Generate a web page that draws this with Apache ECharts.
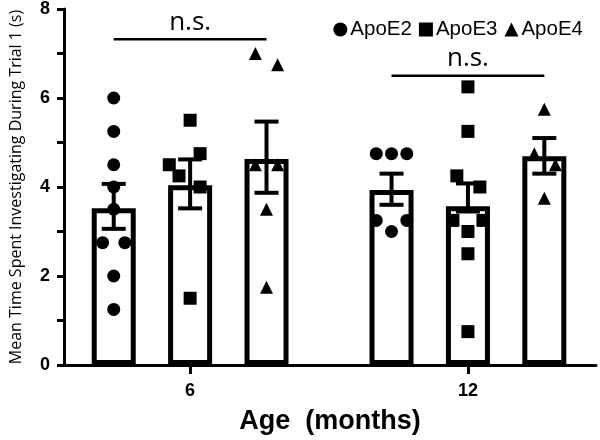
<!DOCTYPE html>
<html>
<head>
<meta charset="utf-8">
<script src="https://cdn.jsdelivr.net/npm/echarts@6/dist/echarts.min.js"></script>
<style>
  html, body { margin: 0; padding: 0; background: #fff; }
  #main { width: 600px; height: 440px; }
</style>
</head>
<body>
<div id="main"></div>
<script>
// ages on the x axis, genotypes as the three bars in each group
const ageLabels = ['6', '12'];
const genotypes = ['ApoE2', 'ApoE3', 'ApoE4'];
const yTicks = [0, 2, 4, 6, 8];

// bar heights (mean) and error bar ends, per genotype
const meansAt6 = [3.52, 4.04, 4.63];
const meansAt12 = [3.93, 3.57, 4.69];
const errLowAt6 = [3.06, 3.52, 3.87];
const errHighAt6 = [4.07, 4.62, 5.47];
const errLowAt12 = [3.60, 3.45, 4.30];
const errHighAt12 = [4.30, 4.08, 5.10];

// individual animals, with small horizontal jitter (x axis units)
const e2At6 = [6.0, 5.25, 4.5, 4.0, 3.5, 2.75, 2.75, 2.0, 1.25];
const e2At6Jit = [0, 0, 0, 0, 0, -0.04, 0.04, 0, 0];
const e3At6 = [5.5, 4.75, 4.5, 4.25, 4.0, 1.5];
const e3At6Jit = [0, 0.036, -0.075, -0.04, 0.036, 0];
const e4At6 = [7.0, 6.75, 4.5, 4.5, 3.5, 1.75];
const e4At6Jit = [-0.04, 0.04, -0.04, 0.04, 0, 0];
const e2At12 = [4.75, 4.75, 4.75, 3.25, 3.25, 3.0];
const e2At12Jit = [-0.055, 0, 0.055, -0.055, 0.055, 0];
const e3At12 = [6.25, 5.25, 4.25, 4.0, 3.25, 3.25, 3.0, 2.5, 0.75];
const e3At12Jit = [0, 0, -0.04, 0.043, -0.054, 0.054, 0, 0, 0];
const e4At12 = [5.75, 4.75, 4.5, 3.75];
const e4At12Jit = [0, -0.036, 0.04, 0];

// significance brackets: [first genotype, last genotype, height]
const sigAt6 = [0, 2, 7.32, 'n.s.'];
const sigAt12 = [0, 2, 6.5, 'n.s.'];

const barOffsets = [-0.275, 0, 0.275];
const agePos = (i) => i + 1;
const xOf = (ageIdx, gIdx) => agePos(ageIdx) + barOffsets[gIdx];

const means = [meansAt6, meansAt12];
const errLow = [errLowAt6, errLowAt12];
const errHigh = [errHighAt6, errHighAt12];
const points = [
  [[e2At6, e2At6Jit], [e3At6, e3At6Jit], [e4At6, e4At6Jit]],
  [[e2At12, e2At12Jit], [e3At12, e3At12Jit], [e4At12, e4At12Jit]]
];
const symbols = ['circle', 'rect', 'triangle'];

const barData = [];
const errData = [];
ageLabels.forEach((a, ai) => {
  genotypes.forEach((g, gi) => {
    barData.push([xOf(ai, gi), means[ai][gi]]);
    errData.push([xOf(ai, gi), errLow[ai][gi], errHigh[ai][gi]]);
  });
});

const pointSeries = genotypes.map((g, gi) => {
  const data = [];
  ageLabels.forEach((a, ai) => {
    const [vals, jit] = points[ai][gi];
    vals.forEach((v, k) => data.push([xOf(ai, gi) + jit[k], v]));
  });
  return {
    name: g,
    type: 'scatter',
    symbol: symbols[gi],
    symbolSize: 13,
    itemStyle: { color: '#000', opacity: 1 },
    z: 5,
    data: data
  };
});

const sigData = [sigAt6, sigAt12].map((s, ai) =>
  [xOf(ai, s[0]), xOf(ai, s[1]), s[2], s[3]]);

var chart = echarts.init(document.getElementById('main'));

var option = {
  animation: false,
  legend: {
    data: genotypes,
    right: 12,
    top: 14,
    itemWidth: 14,
    itemHeight: 14,
    itemGap: 7,
    itemStyle: { opacity: 1 },
    textStyle: { fontFamily: 'Liberation Sans', fontSize: 20.5, color: '#000', padding: [0, 0, 0, -2] }
  },
  grid: { left: 60, right: 4, top: 8, bottom: 74 },
  xAxis: {
    type: 'value',
    min: 0.546,
    max: 2.461,
    name: 'Age  (months)',
    nameLocation: 'middle',
    nameGap: 43,
    nameTextStyle: { fontFamily: 'Liberation Sans', fontWeight: 'bold', fontSize: 27, color: '#000' },
    axisLine: { lineStyle: { color: '#000', width: 3 } },
    axisTick: {
      show: true,
      customValues: ageLabels.map((a, i) => agePos(i)),
      length: 9,
      lineStyle: { color: '#000', width: 3 }
    },
    axisLabel: {
      customValues: ageLabels.map((a, i) => agePos(i)),
      formatter: (v) => ageLabels[Math.round(v) - 1],
      margin: 17,
      fontFamily: 'Liberation Sans',
      fontWeight: 'bold',
      fontSize: 18,
      color: '#000'
    },
    splitLine: { show: false }
  },
  yAxis: {
    type: 'value',
    min: 0,
    max: 8,
    interval: 1,
    name: 'Mean Time Spent Investigating During Trial 1 (s)',
    nameLocation: 'middle',
    nameGap: 40,
    nameTextStyle: { fontFamily: 'Open Sans', fontSize: 16, color: '#000' },
    axisLine: { show: true, lineStyle: { color: '#000', width: 3 } },
    axisTick: { show: true, length: 7, lineStyle: { color: '#000', width: 3 } },
    axisLabel: {
      formatter: (v) => (yTicks.indexOf(v) >= 0 ? String(v) : ''),
      margin: 14,
      fontFamily: 'Liberation Sans',
      fontWeight: 'bold',
      fontSize: 18,
      color: '#000'
    },
    splitLine: { show: false }
  },
  series: [
    {
      type: 'bar',
      barWidth: 44,
      itemStyle: { color: '#fff', borderColor: '#000', borderWidth: 5 },
      z: 2,
      data: barData
    },
    {
      type: 'custom',
      z: 4,
      renderItem: function (params, api) {
        const x = api.value(0);
        const lo = api.coord([x, api.value(1)]);
        const hi = api.coord([x, api.value(2)]);
        const w = 12;
        const st = { stroke: '#000', lineWidth: 4 };
        return {
          type: 'group',
          children: [
            { type: 'line', shape: { x1: lo[0], y1: lo[1], x2: hi[0], y2: hi[1] }, style: st },
            { type: 'line', shape: { x1: lo[0] - w, y1: lo[1], x2: lo[0] + w, y2: lo[1] }, style: st },
            { type: 'line', shape: { x1: hi[0] - w, y1: hi[1], x2: hi[0] + w, y2: hi[1] }, style: st }
          ]
        };
      },
      data: errData
    },
    {
      type: 'custom',
      z: 6,
      renderItem: function (params, api) {
        const a = api.coord([api.value(0), api.value(2)]);
        const b = api.coord([api.value(1), api.value(2)]);
        return {
          type: 'group',
          children: [
            { type: 'line', shape: { x1: a[0], y1: a[1], x2: b[0], y2: b[1] }, style: { stroke: '#000', lineWidth: 2.5 } },
            {
              type: 'text',
              style: {
                x: (a[0] + b[0]) / 2,
                y: a[1] - 4,
                text: api.value(3),
                fill: '#000',
                font: '26px "Open Sans"',
                textAlign: 'center',
                textVerticalAlign: 'bottom'
              }
            }
          ]
        };
      },
      data: sigData
    }
  ].concat(pointSeries)
};

option && chart.setOption(option);
</script>
</body>
</html>
